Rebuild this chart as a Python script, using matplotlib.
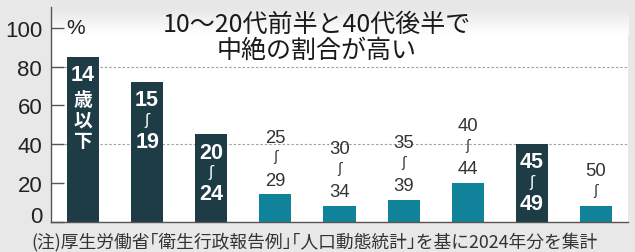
import re
import numpy as np
import matplotlib
matplotlib.use("Agg")
import matplotlib.pyplot as plt
from matplotlib import font_manager as fm
from matplotlib.colors import LinearSegmentedColormap

# ---------------- data ----------------
categories = ["14歳以下", "15～19", "20～24", "25～29", "30～34",
              "35～39", "40～44", "45～49", "50～"]
values = [85, 72, 45, 14, 8, 11, 20, 40, 8]
highlight = [True, True, True, False, False, False, False, True, False]
yticks = [0, 20, 40, 60, 80, 100]
title_lines = ["10～20代前半と40代後半で", "中絶の割合が高い"]
note = "(注)厚生労働省｢衛生行政報告例｣｢人口動態統計｣を基に2024年分を集計"
unit = "%"

# ---------------- fonts ----------------
def has(name):
    try:
        fm.findfont(fm.FontProperties(family=name), fallback_to_default=False)
        return True
    except Exception:
        return False

NARROW = "Liberation Sans Narrow" if has("Liberation Sans Narrow") else "Liberation Sans"
CJK = "Noto Sans CJK JP"
plt.rcParams["font.family"] = [CJK, "DejaVu Sans"]

DARK = "#1e3c46"
TEAL = "#10839a"
BG = "#e8e8e8"
TXT = "#222222"

W, H, DPI = 635, 253, 100
P = 72 / DPI  # px -> pt
fig = plt.figure(figsize=(W / DPI, H / DPI), dpi=DPI, facecolor=BG)

# axes geometry in pixels
ax_left, ax_right, ax_bottom_px, ax_top_px = 50.5, 628, 222.5, 8
ax = fig.add_axes([ax_left / W, (H - ax_bottom_px) / H,
                   (ax_right - ax_left) / W, (ax_bottom_px - ax_top_px) / H])
ax.set_facecolor("white")
px_per_unit = 1.935
ymax = (ax_bottom_px - ax_top_px) / px_per_unit

# top gradient (grey -> white)
grad_h = 28 / (ax_bottom_px - ax_top_px)
grad = np.linspace(0, 1, 64).reshape(-1, 1)
cmap = LinearSegmentedColormap.from_list("g", ["#ffffff", "#e6e6e6"])
ax.imshow(grad, extent=[0, 1, 1 - grad_h, 1], transform=ax.transAxes,
          aspect="auto", cmap=cmap, zorder=0, origin="lower")

x = np.arange(len(categories))
colors = [DARK if h else TEAL for h in highlight]
ax.bar(x, values, width=0.5, color=colors, zorder=3)

ax.set_xlim(-0.507, len(categories) - 0.5)
ax.set_ylim(0, ymax)

for g in (40, 80):
    ax.axhline(g, color="#a0a0a0", lw=0.8, dashes=(2.2, 1.8), zorder=1)

for s in ("top", "right"):
    ax.spines[s].set_visible(False)
for s in ("left", "bottom"):
    ax.spines[s].set_color("#555555")
    ax.spines[s].set_linewidth(1.0)
    ax.spines[s].set_zorder(4)

ax.set_xticks([])
ax.set_yticks(yticks)
# the "0" label sits a little above the baseline in the reference: drawn separately
ax.set_yticklabels(["" if t == 0 else str(t) for t in yticks])
ax.tick_params(axis="y", direction="in", length=9.4, width=1.0,
               color="#555555", pad=6, labelsize=16, labelcolor=TXT)
for lab in ax.get_yticklabels():
    lab.set_fontfamily(NARROW)
ax.annotate(str(yticks[0]), xy=(0, yticks[0]), xycoords=("axes fraction", "data"),
            xytext=(-6, 4.5 * P), textcoords="offset points", ha="right", va="center",
            fontsize=16, family=NARROW, color=TXT)

# unit label
ax.annotate(unit, xy=(0, yticks[-1]), xycoords=("axes fraction", "data"),
            xytext=(11, 0), textcoords="offset points", ha="left", va="center",
            fontsize=15, family=NARROW, color=TXT)

# ---------------- bar labels ----------------
def draw_token(tok, xi, yv, dy_px, inside):
    col = "white" if inside else "#333333"
    wt = "bold" if inside else "normal"
    if tok == "～":
        # vertical wave dash of Japanese vertical typesetting
        fs = 11 if inside else 10
        ax.annotate("ʃ", xy=(xi, yv), xytext=(0, dy_px * P), textcoords="offset points",
                    ha="center", va="center", fontsize=fs,
                    family="DejaVu Sans", weight="normal", color=col, zorder=5)
        return
    if tok.isdigit():
        fs = 15.5 if inside else 13.3
        fam = NARROW if inside else "Liberation Sans"
        k = 0.36
    else:
        fs = 13.5
        fam = CJK
        k = 0.38
    ax.annotate(tok, xy=(xi, yv), xytext=(0, dy_px * P - k * fs),
                textcoords="offset points", ha="center", va="baseline",
                fontsize=fs, family=fam, weight=wt, color=col, zorder=5)

for i, (cat, v, hl) in enumerate(zip(categories, values, highlight)):
    toks = re.findall(r"\d+|.", cat)
    if hl:
        dy = -15.5
        prev = None
        for t in toks:
            if prev is not None:
                if prev.isdigit() and t == "～":
                    dy -= 22
                elif prev == "～":
                    dy -= 19.5
                elif prev.isdigit():
                    dy -= 25
                else:
                    dy -= 20.5
            draw_token(t, i, v, dy, True)
            prev = t
    else:
        dy = 16.5
        for t in reversed(toks):
            draw_token(t, i, v, dy, False)
            dy += 21.5

# ---------------- title & note ----------------
fig.text(317 / W, (H - 31.5) / H, title_lines[0], ha="center", va="baseline",
         fontsize=18, color="#1a1a1a")
fig.text(317 / W, (H - 57.5) / H, title_lines[1], ha="center", va="baseline",
         fontsize=18, color="#1a1a1a")
fig.text(31 / W, (H - 247.5) / H, note, ha="left", va="baseline",
         fontsize=12.8, color="#333333")

fig.savefig("out.png", dpi=DPI, facecolor=BG)
